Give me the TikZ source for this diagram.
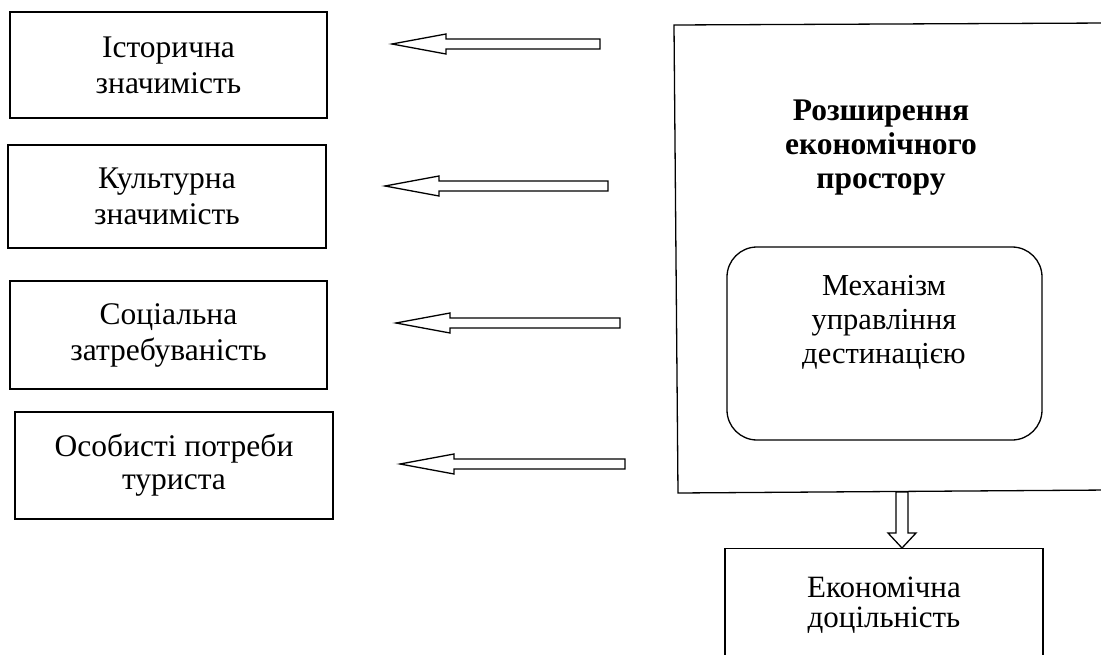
\documentclass[tikz,border=0pt]{standalone}
\usepackage{fontspec}
\setmainfont{Liberation Serif}
\usetikzlibrary{calc}
\begin{document}
\begin{tikzpicture}[x=1pt,y=-1pt,
  every node/.style={font=\fontsize{31.5}{36}\selectfont},
  sidebox/.style={draw,line width=1.3pt,rectangle,inner sep=0pt,align=center},
  hollow/.style={draw,line width=1.3pt,fill=white,line join=miter},
  frame/.style={line width=1.3pt}]
\clip (0,0) rectangle (1101,655);
\fill[white] (0,0) rectangle (1101,655);

% left boxes
\node[sidebox,minimum width=317,minimum height=106] (b1) at (168.5,65) {Історична\\значимість};
\node[sidebox,minimum width=318,minimum height=103] (b2) at (167,196.5) {Культурна\\значимість};
\node[sidebox,minimum width=317,minimum height=108] (b3) at (168.5,335) {Соціальна\\затребуваність};
\node[sidebox,minimum width=318,minimum height=107,font=\fontsize{31.5}{33}\selectfont] (b4) at (174,465.5) {Особисті потреби\\туриста};

% big open frame
\coordinate (ftl) at (674,25);
\coordinate (ftr) at (1110,23);
\coordinate (fbl) at (678,493);
\coordinate (fbr) at (1110,490);
\draw[frame] (ftr) -- (ftl) -- (fbl) -- (fbr);

\node[align=center,font=\bfseries\fontsize{31.5}{34}\selectfont] (title) at (881,148) {Розширення\\економічного\\простору};

% inner rounded box
\node[draw,line width=1.3pt,rounded corners=30pt,minimum width=315,minimum height=193,inner sep=0pt] (mech) at (884.5,343.5) {};
\node[align=center,font=\fontsize{30.5}{34}\selectfont] (mechtxt) at (884,322) {Механізм\\управління\\дестинацією};

% bottom box
\node[draw,line width=1.3pt,minimum width=318,minimum height=160,inner sep=0pt,anchor=north] (eco) at (884,548) {};
\node[align=center,font=\fontsize{31}{30}\selectfont] (ecotxt) at (884,605) {Економічна\\доцільність};

% hollow left arrows
\foreach \n/\tipx/\tailx/\yy in {1/392/600/44, 2/385/608/186, 3/396/620/323, 4/400/625/464}{
  \coordinate (tip\n) at (\tipx,\yy);
  \coordinate (tail\n) at (\tailx,\yy);
  \draw[hollow] (tip\n) -- ($(tip\n)+(54,-10)$) -- ($(tip\n)+(54,-5)$) -- ($(tail\n)+(0,-5)$)
     -- ($(tail\n)+(0,5)$) -- ($(tip\n)+(54,5)$) -- ($(tip\n)+(54,10)$) -- cycle;
}

% hollow down arrow
\coordinate (dtop) at (902,492);
\coordinate (dtip) at (902,548);
\draw[hollow] (dtip) -- ($(dtip)+(-14,-15)$) -- ($(dtip)+(-6,-15)$) -- ($(dtop)+(-6,0)$)
   -- ($(dtop)+(6,0)$) -- ($(dtip)+(6,-15)$) -- ($(dtip)+(14,-15)$) -- cycle;
\end{tikzpicture}
\end{document}
